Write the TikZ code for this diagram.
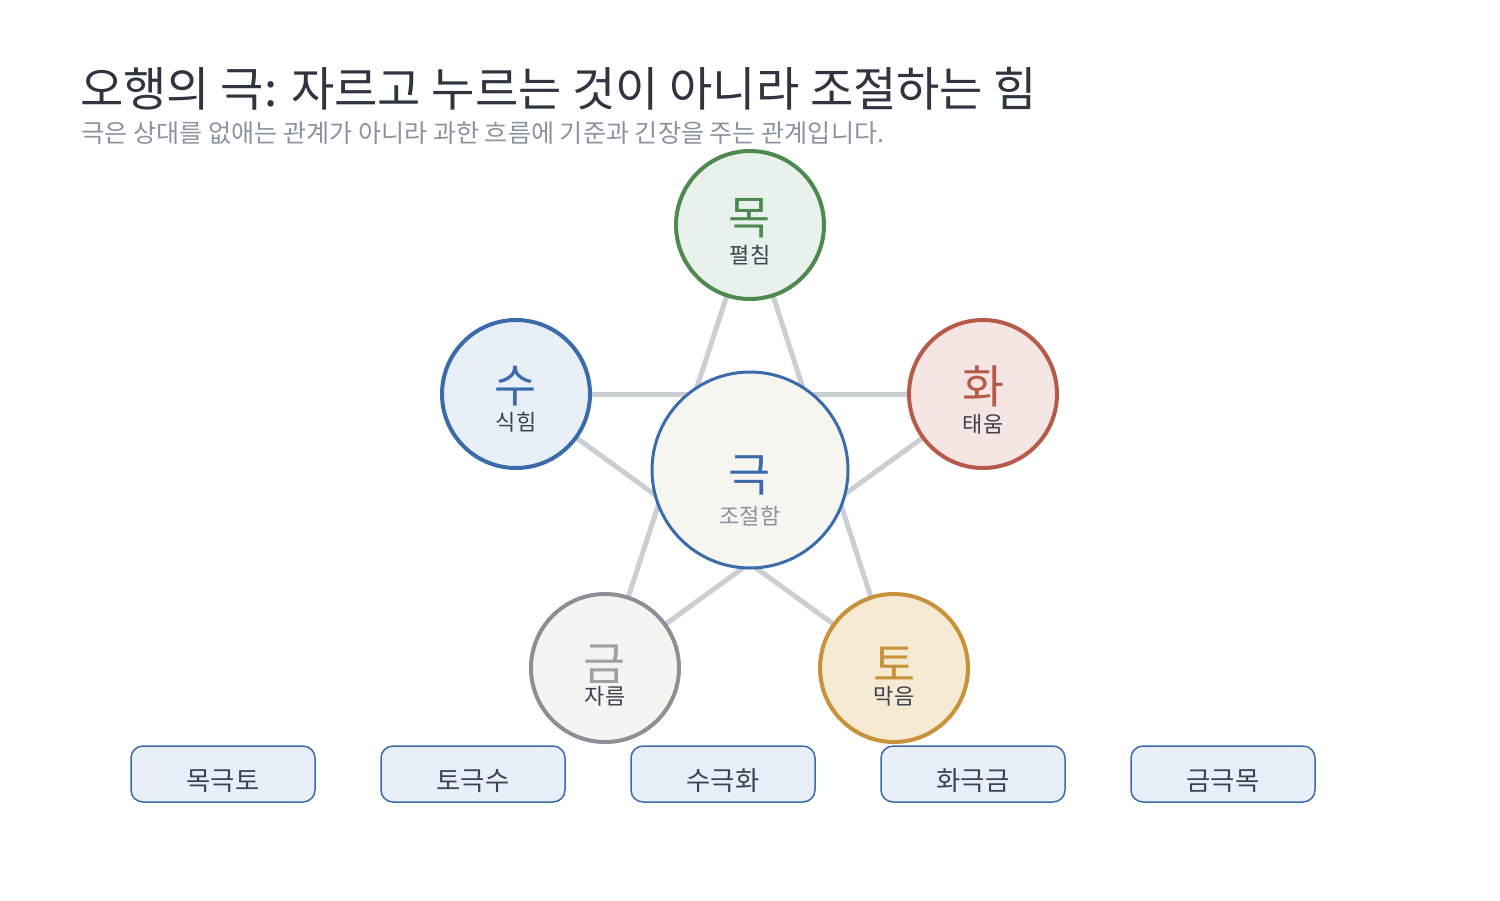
\documentclass[tikz,border=0pt]{standalone}
\usepackage{fontspec}
\setmainfont{Noto Sans CJK KR}
\definecolor{titlec}{HTML}{2E3440}
\definecolor{subc}{HTML}{8A93A0}
\definecolor{labc}{HTML}{3B4250}
\definecolor{linec}{HTML}{CBCFD4}
\definecolor{woodS}{HTML}{4E8A50}\definecolor{woodF}{HTML}{E8F1EC}
\definecolor{fireS}{HTML}{B85A4A}\definecolor{fireF}{HTML}{F6E6E3}
\definecolor{earthS}{HTML}{C8923A}\definecolor{earthF}{HTML}{F7EAD2}
\definecolor{metalS}{HTML}{8A9098}\definecolor{metalF}{HTML}{F5F4F0}
\definecolor{waterS}{HTML}{3A6BAA}\definecolor{waterF}{HTML}{E8EFF7}
\definecolor{centF}{HTML}{F6F5F0}
\definecolor{boxF}{HTML}{E8EFF8}
\newcommand{\boxtxt}[1]{\raisebox{-0.33cm}[0pt][0pt]{#1}}
\begin{document}
\begin{tikzpicture}[x=0.02cm,y=-0.02cm,
  elem/.style={circle,minimum size=148*0.02cm,inner sep=0pt,line width=4*0.02cm},
  big/.style={font=\fontsize{26}{26}\selectfont,inner sep=0pt},
  small/.style={font=\fontsize{12.5}{12.5}\selectfont,inner sep=0pt,text=labc},
  rel/.style={draw=linec,line width=5*0.02cm},
  relbox/.style={draw=waterS,fill=boxF,rounded corners=12*0.02cm,minimum width=184*0.02cm,minimum height=56*0.02cm,line width=1.5*0.02cm,font=\fontsize{15}{15}\selectfont,text=labc}]
\useasboundingbox (0,0) rectangle (1500,900);
\node[anchor=base west,inner sep=0pt,text=titlec,font=\fontsize{26.8}{26.8}\selectfont] (title) at (80,106) {오행의 극: 자르고 누르는 것이 아니라 조절하는 힘};
\node[anchor=west,inner sep=0pt,text=subc,font=\fontsize{14.3}{14.3}\selectfont] (sub) at (81,133) {극은 상대를 없애는 관계가 아니라 과한 흐름에 기준과 긴장을 주는 관계입니다.};
% circles positions
\coordinate (pw) at (750,225);
\coordinate (pf) at (983,394);
\coordinate (pe) at (894,668);
\coordinate (pm) at (605,668);
\coordinate (pa) at (516,394);
% star lines
\draw[rel] (pw) -- (pe);
\draw[rel] (pe) -- (pa);
\draw[rel] (pa) -- (pf);
\draw[rel] (pf) -- (pm);
\draw[rel] (pm) -- (pw);
% center
\node[circle,minimum size=196*0.02cm,inner sep=0pt,draw=waterS,fill=centF,line width=3*0.02cm] (c) at (750,470) {};
\node[big,text=waterS] (ct) at (750,475) {극};
\node[small,text=subc] (cs) at (750,516) {조절함};
% elements
\node[elem,draw=woodS,fill=woodF] (wood) at (pw) {};
\node[big,text=woodS] (woodt) at (750,218) {목};
\node[small] (woods) at (750,255) {펼침};
\node[elem,draw=fireS,fill=fireF] (fire) at (pf) {};
\node[big,text=fireS] (firet) at (983,386) {화};
\node[small] (fires) at (983,424) {태움};
\node[elem,draw=earthS,fill=earthF] (earth) at (pe) {};
\node[big,text=earthS] (eartht) at (894,664) {토};
\node[small] (earths) at (894,696) {막음};
\node[elem,draw=metalS,fill=metalF] (metal) at (pm) {};
\node[big,text=metalS!85!white] (metalt) at (605,664) {금};
\node[small] (metals) at (605,696) {자름};
\node[elem,draw=waterS,fill=waterF] (water) at (pa) {};
\node[big,text=waterS] (watert) at (516,386) {수};
\node[small] (waters) at (516,422) {식힘};
% boxes
\node[relbox] (b1) at (223,774) {\boxtxt{목극토}};
\node[relbox] (b2) at (473,774) {\boxtxt{토극수}};
\node[relbox] (b3) at (723,774) {\boxtxt{수극화}};
\node[relbox] (b4) at (973,774) {\boxtxt{화극금}};
\node[relbox] (b5) at (1223,774) {\boxtxt{금극목}};
\end{tikzpicture}
\end{document}
